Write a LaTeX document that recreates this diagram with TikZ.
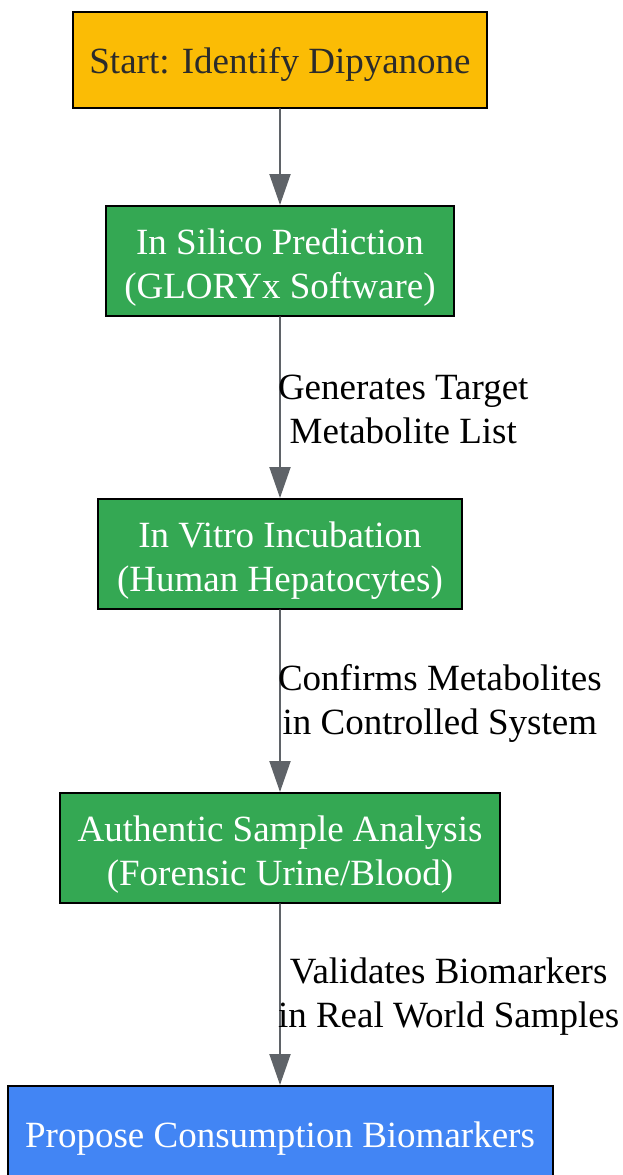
\documentclass[tikz,border=0pt]{standalone}
\usepackage{fontspec}
\setmainfont{Liberation Serif}
\usepackage{tikz}
\usetikzlibrary{arrows.meta}

\begin{document}
\begin{tikzpicture}
		[x=1pt,y=-1pt,line cap=round,
		%Styles
		stepbox/.style={draw=black,line width=2pt,inner sep=0pt,align=center,
			font=\fontsize{37}{44}\selectfont,
			execute at begin node={\rule{0pt}{#1}}},
		stepbox/.default=35pt,
		flow/.style={draw=flowgray,line width=2pt,-{Triangle[length=31pt,width=21pt]}},
		flow label/.style={midway,right,inner sep=0pt,xshift=-3pt,yshift=-2pt,align=center,
			font=\fontsize{37}{44}\selectfont}
		]
		
		%Colors
		\definecolor{startyellow}{HTML}{FBBC05}
		\definecolor{stepgreen}{HTML}{34A853}
		\definecolor{endblue}{HTML}{4285F4}
		\definecolor{flowgray}{HTML}{5F6368}
		\definecolor{darktext}{HTML}{2B2B2B}
		
		\useasboundingbox (0,0) rectangle (622,1175);
		
		%The graphic
		\node[stepbox,fill=startyellow,text=darktext,minimum width=414pt,minimum height=96pt] (start) at (280,60) {Start: Identify Dipyanone};
		\node[stepbox=82pt,fill=stepgreen,text=white,minimum width=348pt,minimum height=110pt] (silico) at (280,261) {In Silico Prediction\\(GLORYx Software)};
		\node[stepbox=82pt,fill=stepgreen,text=white,minimum width=364pt,minimum height=110pt] (vitro) at (280,554) {In Vitro Incubation\\(Human Hepatocytes)};
		\node[stepbox=82pt,fill=stepgreen,text=white,minimum width=440pt,minimum height=110pt] (authentic) at (280,848) {Authentic Sample Analysis\\(Forensic Urine/Blood)};
		\node[stepbox,fill=endblue,text=white,minimum width=545pt,minimum height=96pt] (propose) at (280,1134) {Propose Consumption Biomarkers};
		
		\draw[flow] (start) -- (silico);
		\draw[flow] (silico) -- node[flow label] {Generates Target\\Metabolite List} (vitro);
		\draw[flow] (vitro) -- node[flow label] {Confirms Metabolites\\in Controlled System} (authentic);
		\draw[flow] (authentic) -- node[flow label] {Validates Biomarkers\\in Real World Samples} (propose);
	\end{tikzpicture}
\end{document}
